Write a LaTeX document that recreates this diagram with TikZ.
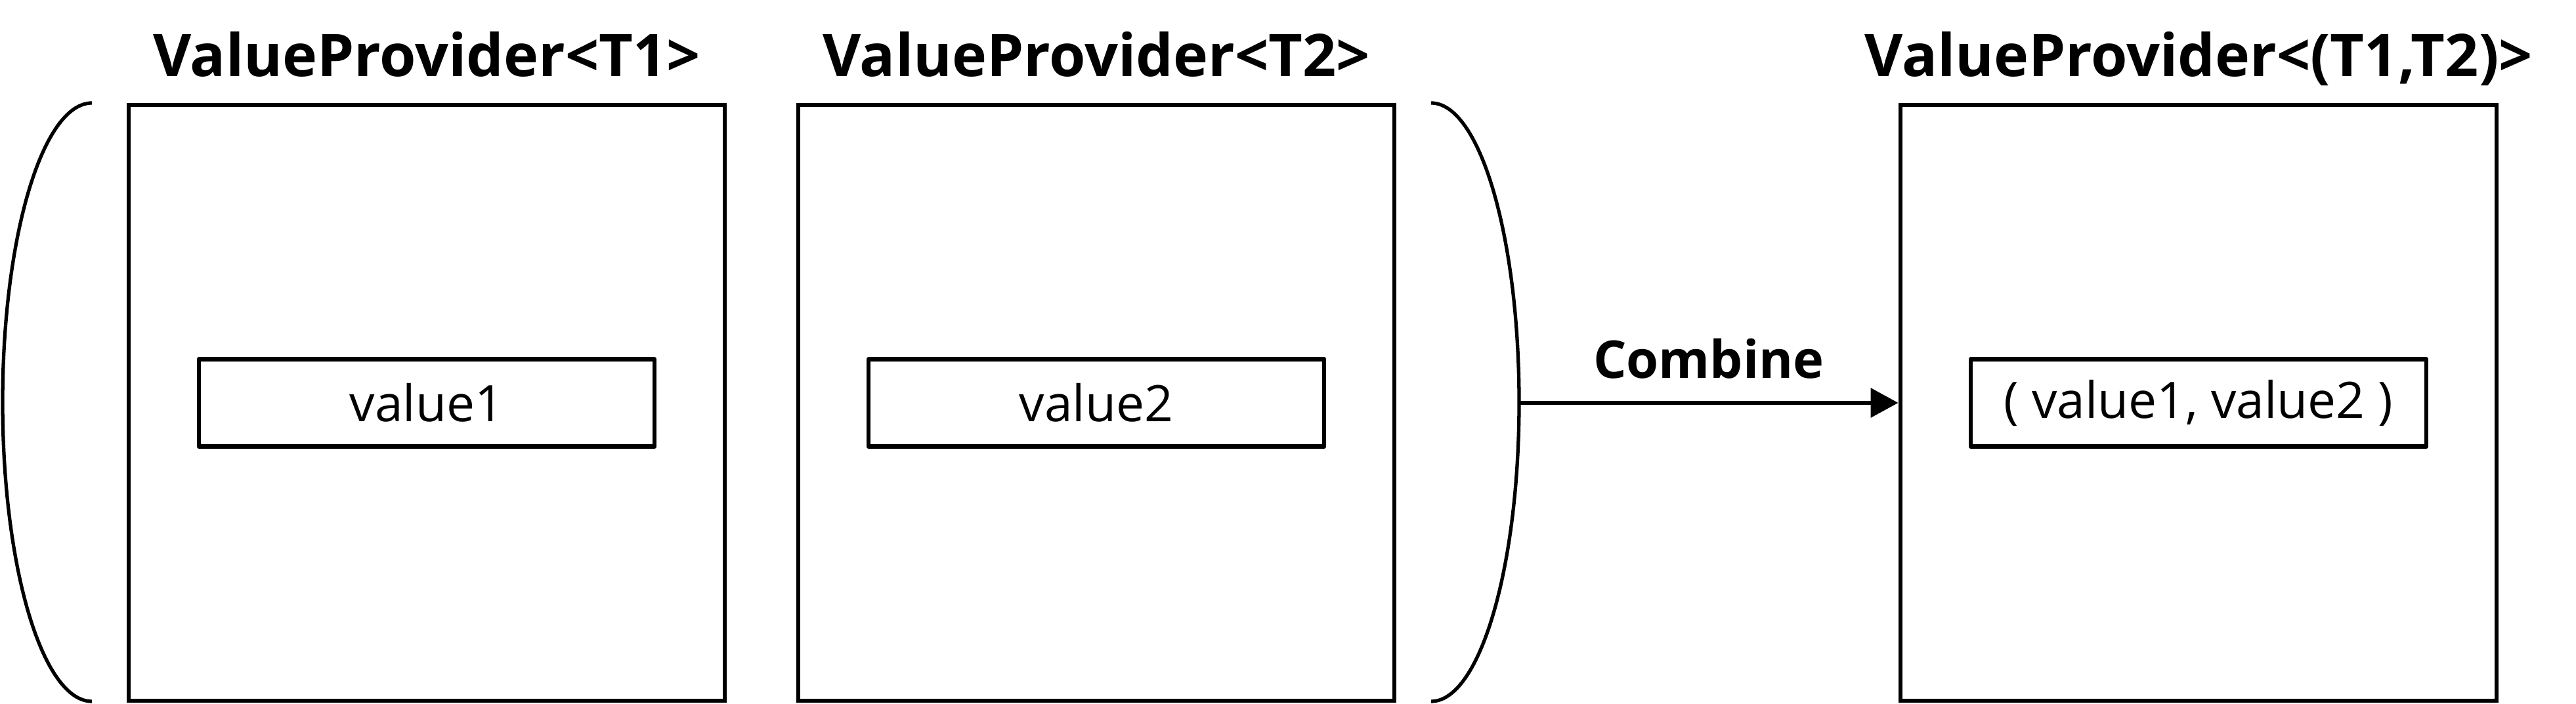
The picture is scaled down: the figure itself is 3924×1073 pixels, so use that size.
\documentclass[tikz,border=0pt]{standalone}
\usepackage{fontspec}
\setmainfont{Open Sans}
\usetikzlibrary{arrows.meta}

\begin{document}
\begin{tikzpicture}[x=0.01cm, y=0.01cm, line width=1.8pt, every node/.style={inner sep=0pt}]
\useasboundingbox (0,0) rectangle (3924,1073);

\coordinate (P1) at (650,459);
\coordinate (P2) at (1670,459);
\coordinate (P3) at (3349,459);
\coordinate (R) at (2314,459);

\begin{scope}[every node/.style={draw, inner sep=0pt, minimum width=9.08cm, minimum height=9.08cm}]
\node (B1) at (P1) {};
\node (B2) at (P2) {};
\node (B3) at (P3) {};
\end{scope}

\begin{scope}[every node/.style={draw, inner sep=0pt, line join=round, minimum width=6.94cm, minimum height=1.33cm, font=\fontsize{21.8}{26}\selectfont}]
\node (V1) at (P1) {value1};
\node (V2) at (P2) {value2};
\node (V3) at (P3) {( value1, value2 )};
\end{scope}

\begin{scope}[every node/.style={inner sep=0pt, anchor=base, font=\bfseries\fontsize{25.5}{30}\selectfont}]
\node (T1) at (650,956) {ValueProvider<T1>};
\node (T2) at (1670,956) {ValueProvider<T2>};
\node (T3) at (3349,956) {ValueProvider<(T1,T2)>};
\end{scope}

\draw[line width=1.5pt] (140,916) arc[start angle=90, end angle=270, x radius=136, y radius=456];
\draw[line width=1.5pt] (2180,916) arc[start angle=90, end angle=-90, x radius=134, y radius=456];

\draw[-{Triangle[length=0.42cm, width=0.44cm]}] (R) -- node[anchor=base, yshift=0.37cm, font=\bfseries\fontsize{22.6}{27}\selectfont] {Combine} (B3.west);

\end{tikzpicture}
\end{document}
